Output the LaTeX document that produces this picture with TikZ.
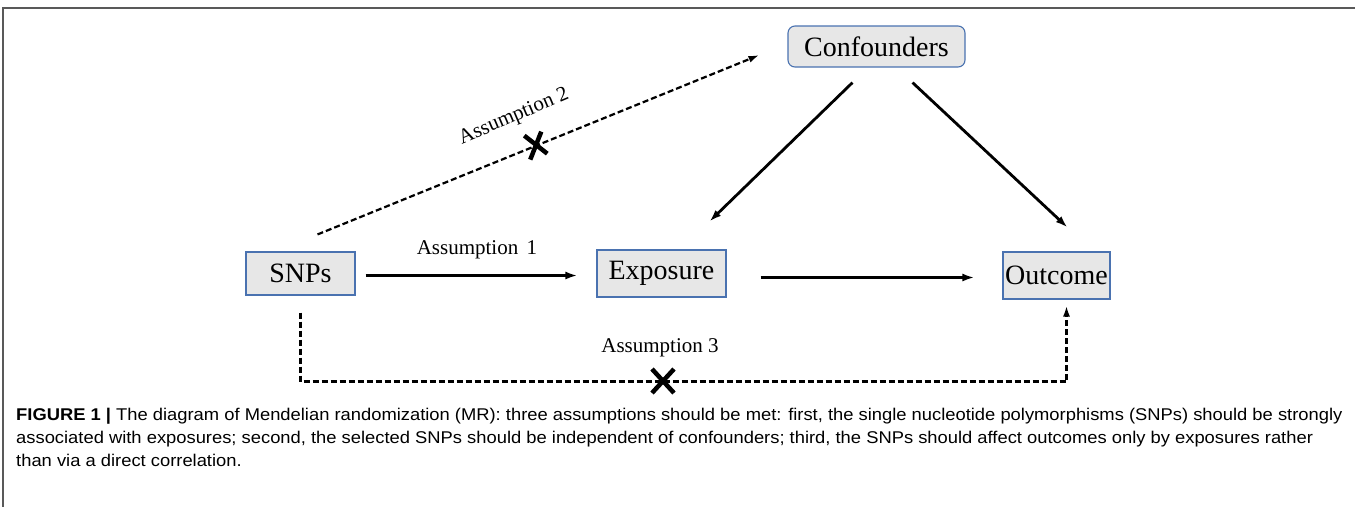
\documentclass[tikz,border=0pt]{standalone}
\usepackage{fontspec}
\setmainfont{Liberation Serif}
\newfontfamily\capfont[FakeStretch=1.08]{Liberation Sans}
\usetikzlibrary{arrows.meta}
\definecolor{boxfill}{HTML}{E7E7E7}
\definecolor{boxline}{HTML}{4A72B0}
\definecolor{framegray}{HTML}{595959}

\begin{document}
\begin{tikzpicture}[x=1pt, y=-1pt,
	every node/.style = {inner sep=0pt},
	var/.style = {draw=boxline, fill=boxfill, line width=1.1pt, minimum height=43pt, font=\fontsize{28}{30}\selectfont},
	arr/.style = {-{Latex[length=12pt,width=8pt]}, line width=2.8pt},
	dasharr/.style = {-{Latex[length=11pt,width=7pt]}, line width=2.2pt, dash pattern=on 6pt off 3pt},
	lbl/.style = {font=\fontsize{21}{24}\selectfont},
	cross/.style = {line width=4.5pt}
	]
	\useasboundingbox (0,0) rectangle (1355,507);
	\draw[framegray, line width=1.5pt] (1355,8) -- (3,8) -- (3,507);
	% variables
	\node[var, minimum width=177pt, minimum height=41pt, rounded corners=7pt] (conf) at (876.5,46.5) {Confounders};
	\node[var, minimum width=109pt] (snps) at (300.5,273.5) {SNPs};
	\node[var, minimum width=129pt, minimum height=47pt] (expo) at (661.5,273.5) {Exposure};
	\node[var, minimum width=107pt, minimum height=47pt] (outc) at (1056.5,275.5) {Outcome};
	% causal arrows
	\draw[arr] ([xshift=10pt,yshift=-2pt]snps.east) -- ([xshift=-19pt,yshift=-2pt]snps.east -| expo.west);
	\draw[arr] ([xshift=34pt,yshift=-4pt]expo.east) -- ([xshift=-28pt,yshift=-4pt]expo.east -| outc.west);
	\draw[arr] ([xshift=-24pt,yshift=-15pt]conf.south) -- ([xshift=48pt,yshift=28pt]expo.north);
	\draw[arr] ([xshift=36pt,yshift=-15pt]conf.south) -- ([xshift=11pt,yshift=24pt]outc.north);
	% violated assumptions
	\draw[dasharr] ([xshift=17pt,yshift=17pt]snps.north) -- coordinate[pos=0.495] (x2) ([xshift=-28pt,yshift=-8.5pt]conf.west);
	\draw[dasharr] ([yshift=-17pt]snps.south) -- ++(0,-69pt) coordinate (bend) -| ([xshift=10pt,yshift=-6pt]outc.south);
	\coordinate (x3) at (663,381);
	\draw[cross] ([shift={(-12pt,10pt)}]x2) -- ([shift={(11pt,-8pt)}]x2);
	\draw[cross] ([shift={(5pt,14pt)}]x2) -- ([shift={(-6pt,-14pt)}]x2);
	\draw[cross] ([shift={(-11pt,12pt)}]x3) -- ([shift={(11pt,-12pt)}]x3);
	\draw[cross] ([shift={(11pt,12pt)}]x3) -- ([shift={(-11pt,-12pt)}]x3);
	% labels
	\node[lbl] (a1) at (477,250) {Assumption\hspace{0.4em}1};
	\node[lbl, rotate=23] (a2) at (514,117) {Assumption 2};
	\node[lbl] (a3) at (660,348) {Assumption 3};
	% caption
	\node[anchor=base west, align=left, font=\capfont\fontsize{17}{23}\selectfont] (cap) at (16,466)
	{\textbf{FIGURE 1 |} The diagram of Mendelian randomization (MR): three assumptions should be met: first, the single nucleotide polymorphisms (SNPs) should be strongly\\
	associated with exposures; second, the selected SNPs should be independent of confounders; third, the SNPs should affect outcomes only by exposures rather\\
	than via a direct correlation.};
\end{tikzpicture}
\end{document}
